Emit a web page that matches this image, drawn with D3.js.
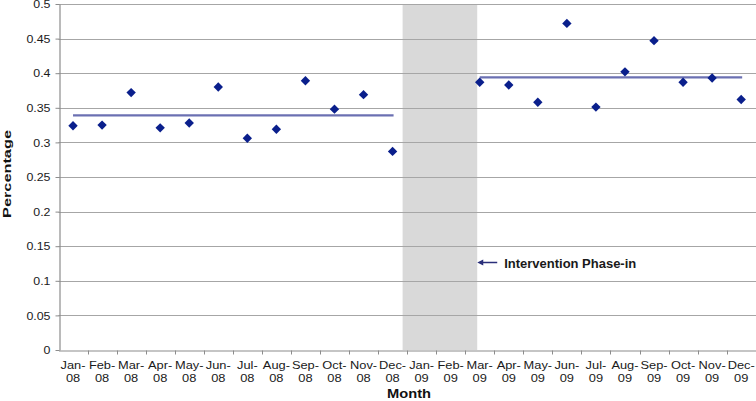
<!DOCTYPE html>
<html>
<head>
<meta charset="utf-8">
<script src="https://cdn.jsdelivr.net/npm/d3@7/dist/d3.min.js"></script>
<style>
  html, body { margin: 0; padding: 0; background: #fff; }
  svg { display: block; font-family: "Liberation Sans", Arial, sans-serif; }
</style>
</head>
<body>
<svg id="chart" width="756" height="401"></svg>
<script>
// ---- data ----
const categories = ["Jan-08","Feb-08","Mar-08","Apr-08","May-08","Jun-08","Jul-08","Aug-08","Sep-08","Oct-08","Nov-08","Dec-08",
                    "Jan-09","Feb-09","Mar-09","Apr-09","May-09","Jun-09","Jul-09","Aug-09","Sep-09","Oct-09","Nov-09","Dec-09"];
const preMonths = ["Jan-08","Feb-08","Mar-08","Apr-08","May-08","Jun-08","Jul-08","Aug-08","Sep-08","Oct-08","Nov-08","Dec-08"];
const preValues = [0.324,0.325,0.372,0.321,0.328,0.380,0.306,0.319,0.389,0.348,0.369,0.287];
const postMonths = ["Mar-09","Apr-09","May-09","Jun-09","Jul-09","Aug-09","Sep-09","Oct-09","Nov-09","Dec-09"];
const postValues = [0.387,0.383,0.358,0.472,0.351,0.402,0.447,0.387,0.393,0.362];
const preMean = [0.339];
const postMean = [0.394];
const phaseInMonths = ["Jan-09","Feb-09"];
const yTicks = [0,0.05,0.1,0.15,0.2,0.25,0.3,0.35,0.4,0.45,0.5];
const annotationText = "Intervention Phase-in";
const xTitle = "Month";
const yTitle = "Percentage";

// ---- layout ----
const svg = d3.select("#chart");
const mLeft = 58.5, mRight = 755.7, mTop = 4, mBottom = 350;

const x = d3.scaleBand().domain(categories).range([mLeft, mRight]).paddingInner(0).paddingOuter(0);
const y = d3.scaleLinear().domain([0, 0.5]).range([mBottom, mTop]);
const cx = d => x(d) + x.bandwidth() / 2;

const gridColor = "#a6a6a6", axisColor = "#8c8c8c";
const markColor = "#0a1f8c", meanColor = "#6b70b2";

// shaded phase-in band
svg.append("rect")
  .attr("x", x(phaseInMonths[0]) - 4.5)
  .attr("y", y(0.5))
  .attr("width", cx(postMonths[0]) - 2.5 - (x(phaseInMonths[0]) - 4.5))
  .attr("height", y(0) - y(0.5))
  .attr("fill", "#d9d9d9");

// gridlines
svg.append("g").selectAll("line").data(yTicks.filter(d => d > 0)).join("line")
  .attr("x1", mLeft).attr("x2", 756)
  .attr("y1", d => Math.round(y(d)) + 0.5).attr("y2", d => Math.round(y(d)) + 0.5)
  .attr("stroke", gridColor).attr("stroke-width", 1.2);

// y axis
const yAxis = svg.append("g")
  .attr("transform", `translate(${Math.round(mLeft) + 0.5},0)`)
  .call(d3.axisLeft(y).tickValues(yTicks).tickSize(4).tickSizeOuter(0)
        .tickFormat(d => d === 0 ? "0" : String(+d.toFixed(2))));
yAxis.select(".domain").attr("stroke", axisColor).attr("stroke-width", 1.2);
yAxis.selectAll(".tick line").attr("stroke", axisColor);
yAxis.selectAll(".tick text")
  .attr("x", 0).attr("dy", "0.35em")
  .attr("transform", "translate(-9,0) scale(1.18,1)")
  .attr("fill", "#1a1a1a").attr("font-size", "10.5px");

// x axis
const xAxis = svg.append("g")
  .attr("transform", `translate(0,${Math.round(mBottom) + 0.5})`)
  .call(d3.axisBottom(x).tickSize(0).tickSizeOuter(0).tickFormat(""));
xAxis.select(".domain").attr("stroke", axisColor).attr("stroke-width", 1.2);
xAxis.selectAll(".tick line").remove();
// tick marks at category boundaries
xAxis.append("g").selectAll("line").data(categories).join("line")
  .attr("x1", d => Math.round(x(d) + x.bandwidth()) + 0.5)
  .attr("x2", d => Math.round(x(d) + x.bandwidth()) + 0.5)
  .attr("y1", 0).attr("y2", 4)
  .attr("stroke", axisColor);
// two-line category labels
const lab = xAxis.selectAll(".tick").append("g").attr("class", "lab");
lab.each(function(d) {
  const parts = d.split("-");
  const g = d3.select(this);
  g.append("text").text(parts[0] + "-")
    .attr("transform", "translate(0,18.5) scale(1.2,1)")
    .attr("text-anchor", "middle").attr("font-size", "10.7px").attr("fill", "#1a1a1a");
  g.append("text").text(parts[1])
    .attr("transform", "translate(0,31.5) scale(1.2,1)")
    .attr("text-anchor", "middle").attr("font-size", "10.7px").attr("fill", "#1a1a1a");
});

// mean lines
svg.append("line")
  .attr("x1", cx(preMonths[0])).attr("x2", cx(preMonths[preMonths.length - 1]) + 1)
  .attr("y1", y(preMean[0])).attr("y2", y(preMean[0]))
  .attr("stroke", meanColor).attr("stroke-width", 2.3);
svg.append("line")
  .attr("x1", cx(postMonths[0])).attr("x2", cx(postMonths[postMonths.length - 1]) + 1)
  .attr("y1", y(postMean[0])).attr("y2", y(postMean[0]))
  .attr("stroke", meanColor).attr("stroke-width", 2.3);

// points
const diamond = d3.symbol().type(d3.symbolSquare).size(44);
const pts = preMonths.map((m, i) => ({m, v: preValues[i]}))
  .concat(postMonths.map((m, i) => ({m, v: postValues[i]})));
svg.append("g").selectAll("path").data(pts).join("path")
  .attr("d", diamond)
  .attr("transform", d => `translate(${cx(d.m)},${y(d.v)}) rotate(45)`)
  .attr("fill", markColor);

// annotation arrow + text
const ax0 = cx(postMonths[0]) - 2.5, ay = Math.round(y(0.127)) + 0.5;
svg.append("line")
  .attr("x1", ax0 + 4).attr("x2", ax0 + 20).attr("y1", ay).attr("y2", ay)
  .attr("stroke", "#2a2f7a").attr("stroke-width", 1.5);
svg.append("path")
  .attr("d", `M${ax0},${ay} L${ax0 + 6},${ay - 3} L${ax0 + 6},${ay + 3} Z`)
  .attr("fill", "#2a2f7a");
svg.append("text").text(annotationText)
  .attr("x", ax0 + 27).attr("y", ay + 5)
  .attr("font-size", "12px").attr("font-weight", "bold").attr("fill", "#1a1a1a")
  .attr("textLength", 132).attr("lengthAdjust", "spacingAndGlyphs");

// axis titles
svg.append("text").text(xTitle)
  .attr("x", 387).attr("y", 398)
  .attr("font-size", "12.5px").attr("font-weight", "bold").attr("fill", "#111")
  .attr("textLength", 44).attr("lengthAdjust", "spacingAndGlyphs");
svg.append("text").text(yTitle)
  .attr("transform", "translate(10.5,218) rotate(-90)")
  .attr("font-size", "11.5px").attr("font-weight", "bold").attr("fill", "#111")
  .attr("textLength", 88).attr("lengthAdjust", "spacingAndGlyphs");
</script>
</body>
</html>
